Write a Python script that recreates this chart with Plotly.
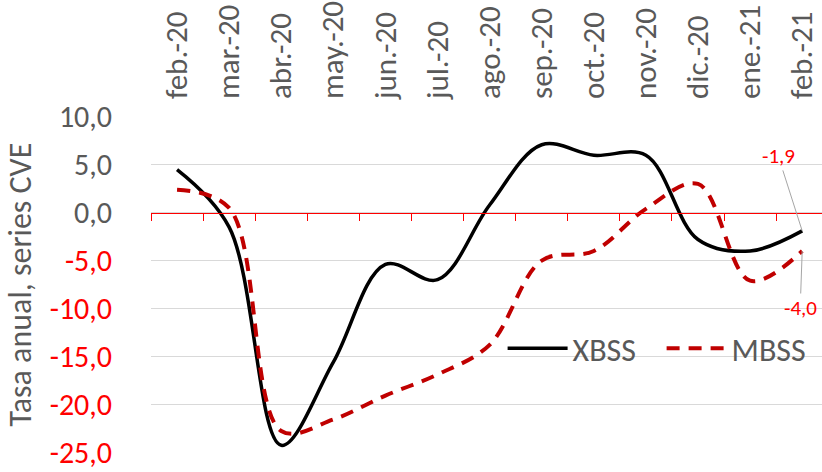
import plotly.graph_objects as go

categories = ["feb.-20", "mar.-20", "abr.-20", "may.-20", "jun.-20", "jul.-20", "ago.-20",
              "sep.-20", "oct.-20", "nov.-20", "dic.-20", "ene.-21", "feb.-21"]
xbss = [4.5, -1.5, -24.3, -15.6, -5.4, -7.0, 0.8, 7.1, 6.0, 6.0, -2.8, -4.0, -1.9]
mbss = [2.4, 0.5, -22.8, -21.6, -19.1, -16.9, -13.8, -5.0, -4.0, 0.4, 3.0, -7.1, -4.0]
y_ticks = [-25, -20, -15, -10, -5, 0, 5, 10]

FONT = "Calibri, Carlito, Lato, sans-serif"
GRAY = "#595959"
FS = 31
idx = list(range(len(categories)))


def fmt(v):
    return f"{v:.1f}".replace(".", ",")


tick_text = [f'<span style="color:#FF0000">{fmt(v)}</span>' if v < 0 else fmt(v) for v in y_ticks]

fig = go.Figure()
fig.add_trace(go.Scatter(x=idx, y=xbss, name="XBSS", mode="lines",
                         line=dict(color="#000000", width=3.5, shape="spline", smoothing=1.0),
                         hoverinfo="skip"))
fig.add_trace(go.Scatter(x=idx, y=mbss, name="MBSS", mode="lines",
                         line=dict(color="#C00000", width=4, dash="13px,9px", shape="spline", smoothing=1.0),
                         hoverinfo="skip"))
# invisible trace carrying the zero-line axis
fig.add_trace(go.Scatter(x=idx, y=xbss, xaxis="x2", mode="lines", line=dict(width=0),
                         opacity=0, showlegend=False, hoverinfo="skip"))

ymin, ymax = -25.1, 10.1
x_range = [-0.5, 12.38]

fig.update_layout(
    width=822, height=472,
    margin=dict(l=151, r=0, t=116, b=19),
    paper_bgcolor="white", plot_bgcolor="white",
    font=dict(family=FONT, color=GRAY, size=FS),
    showlegend=True,
    legend=dict(orientation="h", x=0.524, y=0.31, xanchor="left", yanchor="middle",
                bgcolor="rgba(0,0,0,0)", font=dict(size=32, color=GRAY),
                itemwidth=60, tracegroupgap=0, entrywidth=84, entrywidthmode="pixels"),
    xaxis=dict(side="top", range=x_range, tickmode="array", tickvals=idx, ticktext=categories,
               tickangle=-90, showgrid=False, zeroline=False, showline=False, ticks="",
               automargin=False, ticklabelstandoff=16, tickfont=dict(size=FS, color=GRAY)),
    xaxis2=dict(overlaying="x", matches="x", anchor="free", position=(0 - ymin) / (ymax - ymin),
                side="bottom", tickmode="array", tickvals=[i - 0.5 for i in range(len(categories) + 1)],
                showticklabels=False, ticks="outside", ticklen=7, tickcolor="#FF0000", tickwidth=1,
                showline=True, linecolor="#FF0000", linewidth=1, showgrid=False, zeroline=False,
                automargin=False),
    yaxis=dict(range=[ymin, ymax], tickmode="array", tickvals=y_ticks, ticktext=tick_text,
               showgrid=True, gridcolor="#D9D9D9", gridwidth=1, zeroline=False, showline=False,
               ticks="", ticklabelstandoff=38, automargin=False, ticklabeloverflow="allow",
               tickfont=dict(size=30, color=GRAY),
               title=dict(text="Tasa anual, series CVE", font=dict(size=32, color=GRAY), standoff=8)),
)

fig.add_annotation(x=idx[-1], y=xbss[-1], text=fmt(xbss[-1]), showarrow=True, arrowhead=0,
                   arrowwidth=1, arrowcolor="#A6A6A6", ax=-24, ay=-75,
                   font=dict(size=21, color="#FF0000", family=FONT))
fig.add_annotation(x=idx[-1], y=mbss[-1], text=fmt(mbss[-1]), showarrow=True, arrowhead=0,
                   arrowwidth=1, arrowcolor="#A6A6A6", ax=-2, ay=57,
                   font=dict(size=21, color="#FF0000", family=FONT))

fig.write_html("out.html", config={"displayModeBar": False},
               post_script="document.body.style.margin='0';document.body.style.overflow='hidden';")
